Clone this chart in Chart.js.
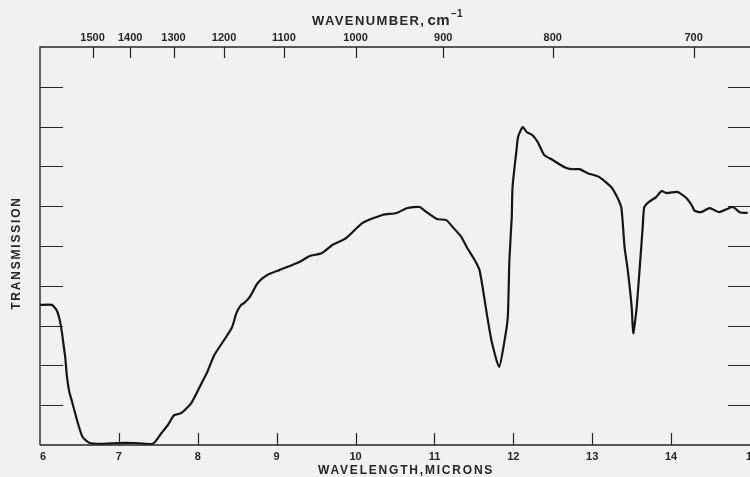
<!DOCTYPE html>
<html>
<head>
<meta charset="utf-8">
<script src="https://cdn.jsdelivr.net/npm/chart.js@4/dist/chart.umd.min.js"></script>
<style>
  html, body { margin: 0; padding: 0; background: #f1f1f1; }
  #wrap { width: 750px; height: 477px; position: relative; }
</style>
</head>
<body>
<div id="wrap"><canvas id="spectrum"></canvas></div>
<script>
// Infrared transmission spectrum, 6–15 microns
const wavelength = [
  6.00, 6.15, 6.21, 6.25, 6.28, 6.30, 6.32, 6.34, 6.37, 6.41, 6.48, 6.54, 6.63, 6.78, 6.98, 7.20, 7.43,
  7.54, 7.62, 7.70, 7.79, 7.92, 8.05, 8.12, 8.21, 8.43, 8.49, 8.55, 8.59, 8.66, 8.76, 8.88, 9.04,
  9.29, 9.42, 9.57, 9.71, 9.88, 10.09, 10.34, 10.52, 10.65, 10.81, 10.90, 11.03, 11.15, 11.23,
  11.34, 11.41, 11.51, 11.57, 11.61, 11.67, 11.73, 11.82, 11.89, 11.93, 11.95, 11.98, 11.99,
  12.04, 12.06, 12.12, 12.17, 12.24, 12.31, 12.39, 12.50, 12.65, 12.74, 12.84, 12.94, 13.09,
  13.24, 13.32, 13.37, 13.41, 13.45, 13.50, 13.52, 13.56, 13.60, 13.64, 13.66, 13.72, 13.81,
  13.88, 13.94, 14.07, 14.11, 14.19, 14.26, 14.30, 14.38, 14.49, 14.61, 14.78, 14.87, 14.97
];
const transmission = [
  35.2, 35.2, 33.9, 31.4, 28.0, 25.0, 22.0, 17.5, 13.5, 10.6, 5.5, 2.0, 0.5, 0.3, 0.5, 0.5, 0.3,
  3.0, 5.0, 7.5, 8.0, 10.6, 15.6, 18.3, 22.6, 29.4, 33.2, 35.2, 35.7, 37.2, 40.7, 42.7, 44.0,
  46.0, 47.5, 48.2, 50.3, 52.0, 55.8, 57.8, 58.3, 59.5, 59.8, 58.5, 56.8, 56.5, 54.8,
  52.3, 49.7, 46.5, 44.0, 39.7, 32.2, 25.6, 19.6, 26.4, 32.2, 46.5, 57.3, 64.8,
  74.1, 77.4, 79.9, 78.6, 77.9, 76.1, 72.9, 71.6, 69.8, 69.3, 69.3, 68.3, 67.3,
  64.8, 62.1, 59.5, 49.7, 44.0, 34.7, 28.1, 33.9, 44.0, 54.8, 59.8, 61.1, 62.3,
  63.8, 63.3, 63.6, 63.3, 62.1, 60.3, 58.8, 58.5, 59.5, 58.5, 59.8, 58.5, 58.3
];

const wavelengthTicks = [6, 7, 8, 9, 10, 11, 12, 13, 14, 15];
const wavenumberTicks = [1500, 1400, 1300, 1200, 1100, 1000, 900, 800, 700];
const transmissionTicks = [10, 20, 30, 40, 50, 60, 70, 80, 90];

const INK = '#262626';
const LABEL_FONT = 'bold 11px "Liberation Sans", sans-serif';
const TITLE_FONT = 'bold 12px "Liberation Sans", sans-serif';

// Frame, inward ticks, both wavelength and wavenumber scales, and axis titles
const frameAxes = {
  id: 'frameAxes',
  afterDatasetsDraw(chart) {
    const { ctx, chartArea: a, scales: { x, y } } = chart;
    ctx.save();
    ctx.strokeStyle = INK;
    ctx.fillStyle = INK;
    ctx.lineWidth = 1.4;

    // frame: left, top, bottom
    ctx.beginPath();
    ctx.moveTo(a.left, a.bottom);
    ctx.lineTo(a.left, a.top);
    ctx.lineTo(a.right, a.top);
    ctx.moveTo(a.left, a.bottom);
    ctx.lineTo(a.right, a.bottom);
    ctx.stroke();

    ctx.lineWidth = 1.2;
    // transmission ticks, inward from left and right
    ctx.beginPath();
    transmissionTicks.forEach(v => {
      const py = Math.round(y.getPixelForValue(v)) + 0.5;
      ctx.moveTo(a.left, py); ctx.lineTo(a.left + 23, py);
      ctx.moveTo(a.right - 22, py); ctx.lineTo(a.right, py);
    });
    // wavelength ticks, upward from bottom
    wavelengthTicks.forEach(v => {
      if (v === x.min || v === x.max) return;
      const px = Math.round(x.getPixelForValue(v)) + 0.5;
      ctx.moveTo(px, a.bottom); ctx.lineTo(px, a.bottom - 12);
    });
    // wavenumber ticks, downward from top (cm-1 -> microns)
    wavenumberTicks.forEach(n => {
      const px = Math.round(x.getPixelForValue(10000 / n)) + 0.5;
      ctx.moveTo(px, a.top); ctx.lineTo(px, a.top + 11);
    });
    ctx.stroke();

    // tick labels
    ctx.font = LABEL_FONT;
    ctx.textBaseline = 'middle';
    wavelengthTicks.forEach(v => {
      let px = x.getPixelForValue(v);
      ctx.textAlign = 'center';
      if (v === x.min) ctx.textAlign = 'left';
      if (v === x.max) { ctx.textAlign = 'left'; px -= 4; }
      ctx.fillText(String(v), px, a.bottom + 12);
    });
    ctx.textAlign = 'center';
    wavenumberTicks.forEach(n => {
      ctx.fillText(String(n), x.getPixelForValue(10000 / n), a.top - 9);
    });

    // axis titles
    ctx.font = TITLE_FONT;
    ctx.letterSpacing = '1.8px';
    ctx.textAlign = 'left';
    ctx.fillText('WAVELENGTH,MICRONS', 318, a.bottom + 26);

    ctx.font = 'bold 13px "Liberation Sans", sans-serif';
    ctx.letterSpacing = '1.4px';
    const topTitle = 'WAVENUMBER,';
    ctx.fillText(topTitle, 312, 21);
    const w1 = ctx.measureText(topTitle).width;
    ctx.letterSpacing = '0.5px';
    ctx.font = 'bold 15px "Liberation Sans", sans-serif';
    ctx.fillText('cm', 312 + w1 + 2, 21);
    const w2 = ctx.measureText('cm').width;
    ctx.letterSpacing = '0px';
    ctx.font = 'bold 10px "Liberation Sans", sans-serif';
    ctx.fillText('−1', 312 + w1 + w2 + 3, 14);

    ctx.font = TITLE_FONT;
    ctx.letterSpacing = '1.8px';
    ctx.translate(17, 253);
    ctx.rotate(-Math.PI / 2);
    ctx.textAlign = 'center';
    ctx.fillText('TRANSMISSION', 0, 0);
    ctx.restore();
  }
};

new Chart(document.getElementById('spectrum'), {
  type: 'line',
  data: {
    datasets: [{
      data: wavelength.map((w, i) => ({ x: w, y: transmission[i] })),
      borderColor: '#151515',
      borderWidth: 2.2,
      pointRadius: 0,
      fill: false,
      tension: 0.2
    }]
  },
  options: {
    responsive: true,
    maintainAspectRatio: false,
    animation: false,
    layout: { padding: { left: 40, top: 47, right: 0, bottom: 32 } },
    plugins: { legend: { display: false }, tooltip: { enabled: false } },
    scales: {
      x: { type: 'linear', min: 6, max: 15, display: false },
      y: { type: 'linear', min: 0, max: 100, display: false }
    }
  },
  plugins: [frameAxes]
});
</script>
</body>
</html>
